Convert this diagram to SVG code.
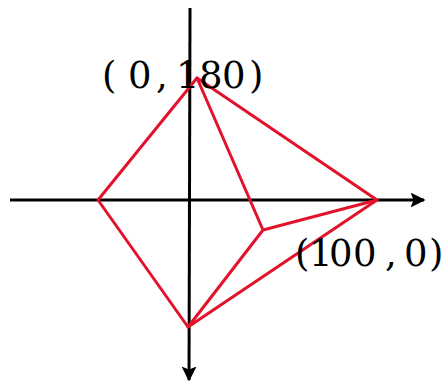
<svg xmlns="http://www.w3.org/2000/svg" width="444" height="386" viewBox="0 0 444 386">
<defs>
<style>
.axis{stroke:#000;stroke-width:3;fill:none}
.edge{stroke:#e3122b;stroke-width:3;fill:none;stroke-linejoin:round;stroke-linecap:round}
.lbl{font-family:"DejaVu Serif","Liberation Serif",serif;font-size:37px;fill:#000}
</style>
<marker id="arr" viewBox="0 0 10 10" refX="9" refY="5" markerWidth="5" markerHeight="5" orient="auto" markerUnits="strokeWidth">
<path d="M0,0 L10,5 L0,10 L2,5 z" fill="#000"/>
</marker>
</defs>
<rect width="444" height="386" fill="#fff"/>
<g id="connectors">
<line class="axis" x1="10" y1="200" x2="424" y2="200" marker-end="url(#arr)"/>
<line class="axis" x1="190" y1="8" x2="189" y2="380" marker-end="url(#arr)"/>
<path class="edge" d="M197,78 L98,200 L188,327 L377,200 Z"/>
<path class="edge" d="M197,78 L263,230 L377,200 M263,230 L188,327"/>
</g>
<g id="label-top">
<text class="lbl" x="102 117 128 152 156 176 199 222 249" y="88">( 0 ,180)</text>
</g>
<g id="label-right">
<text class="lbl" x="295 309 329 353 377 385 404 429" y="266">(100 ,0)</text>
</g>
</svg>
